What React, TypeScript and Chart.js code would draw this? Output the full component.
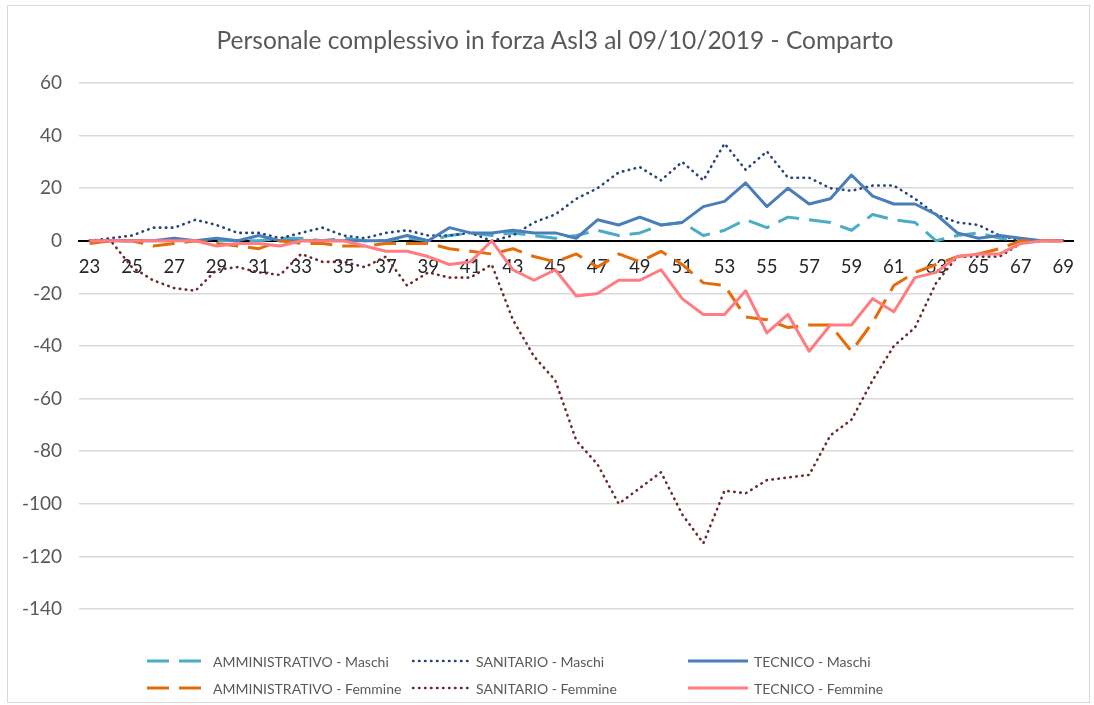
import React, { useEffect, useRef } from "react";
import { Chart, registerables } from "chart.js";

Chart.register(...registerables);

const TITLE = "Personale complessivo in forza Asl3 al 09/10/2019 - Comparto";

const ages = [
  "23", "24", "25", "26", "27", "28", "29", "30", "31", "32", "33", "34",
  "35", "36", "37", "38", "39", "40", "41", "42", "43", "44", "45", "46",
  "47", "48", "49", "50", "51", "52", "53", "54", "55", "56", "57", "58",
  "59", "60", "61", "62", "63", "64", "65", "66", "67", "68", "69",
];

const yTicks = [60, 40, 20, 0, -20, -40, -60, -80, -100, -120, -140];

const amministrativoMaschi = [
  0, 0, 0, 0, 0, 0, 0, 0, 0, 1, 1, 0,
  1, 0, 0, 1, 0, 2, 3, 2, 3, 2, 1, 2,
  4, 2, 3, 6, 7, 2, 4, 8, 5, 9, 8, 7,
  4, 10, 8, 7, 0, 2, 3, 1, 0, 0, 0,
];

const sanitarioMaschi = [
  0, 1, 2, 5, 5, 8, 6, 3, 3, 1, 3, 5,
  2, 1, 3, 4, 2, 2, 3, 0, 2, 7, 10, 16,
  20, 26, 28, 23, 30, 23, 37, 27, 34, 24, 24, 20,
  19, 21, 21, 16, 10, 7, 6, 2, 0, 0, 0,
];

const tecnicoMaschi = [
  0, 0, 0, 0, 1, 0, 1, 0, 2, 0, 0, 0,
  0, 0, 0, 2, 0, 5, 3, 3, 4, 3, 3, 1,
  8, 6, 9, 6, 7, 13, 15, 22, 13, 20, 14, 16,
  25, 17, 14, 14, 10, 3, 1, 2, 1, 0, 0,
];

const amministrativoFemmine = [
  -1, 0, 0, -2, -1, 0, -1, -2, -3, 0, -1, -1,
  -2, -2, -1, -1, -1, -3, -4, -5, -3, -6, -8, -5,
  -10, -5, -8, -4, -9, -16, -17, -29, -30, -33, -32, -32,
  -42, -31, -17, -12, -9, -6, -5, -3, 0, 0, 0,
];

const sanitarioFemmine = [
  0, 0, -10, -15, -18, -19, -11, -10, -12, -13, -5, -8,
  -8, -10, -6, -17, -12, -14, -14, -9, -30, -44, -53, -76,
  -85, -100, -94, -88, -104, -115, -95, -96, -91, -90, -89, -74,
  -68, -53, -40, -33, -16, -6, -6, -6, -1, 0, 0,
];

const tecnicoFemmine = [
  0, 0, 0, 0, 0, 0, -2, -1, -1, -2, 0, 0,
  0, -2, -4, -4, -6, -9, -8, 0, -11, -15, -11, -21,
  -20, -15, -15, -11, -22, -28, -28, -19, -35, -28, -42, -32,
  -32, -22, -27, -14, -12, -6, -5, -5, -1, 0, 0,
];

type Style = "dash" | "dot" | "solid";

const series: { label: string; data: number[]; color: string; style: Style }[] = [
  { label: "AMMINISTRATIVO - Maschi", data: amministrativoMaschi, color: "#4bacc6", style: "dash" },
  { label: "SANITARIO - Maschi", data: sanitarioMaschi, color: "#264478", style: "dot" },
  { label: "TECNICO - Maschi", data: tecnicoMaschi, color: "#4a7ebb", style: "solid" },
  { label: "AMMINISTRATIVO - Femmine", data: amministrativoFemmine, color: "#e46c0a", style: "dash" },
  { label: "SANITARIO - Femmine", data: sanitarioFemmine, color: "#6b2a2a", style: "dot" },
  { label: "TECNICO - Femmine", data: tecnicoFemmine, color: "#ff7c80", style: "solid" },
];

const FONT = "Lato, 'Open Sans', 'DejaVu Sans', sans-serif";

function dashFor(style: Style): number[] {
  if (style === "dash") return [22, 10];
  if (style === "dot") return [0.5, 5.5];
  return [];
}

function LegendSample({ color, style }: { color: string; style: Style }) {
  const dash = style === "dash" ? "22 10" : style === "dot" ? "0.5 5.5" : undefined;
  return (
    <svg width={60} height={10} style={{ display: "block", flex: "none" }}>
      <line
        x1={style === "dot" ? 3 : 0}
        y1={5}
        x2={60}
        y2={5}
        stroke={color}
        strokeWidth={style === "dot" ? 2.5 : 3}
        strokeDasharray={dash}
        strokeLinecap={style === "dot" ? "round" : "butt"}
      />
    </svg>
  );
}

export default function App() {
  const canvasRef = useRef<HTMLCanvasElement | null>(null);

  useEffect(() => {
    const canvas = canvasRef.current;
    if (!canvas) return;
    const n = series.length;
    const chart = new Chart(canvas, {
      type: "line",
      data: {
        labels: ages,
        datasets: series.map((s, i) => ({
          label: s.label,
          data: s.data,
          borderColor: s.color,
          backgroundColor: s.color,
          borderWidth: s.style === "dot" ? 2.6 : 3,
          borderDash: dashFor(s.style),
          borderCapStyle: s.style === "dot" ? "round" : "butt",
          borderJoinStyle: "round",
          pointRadius: 0,
          pointHoverRadius: 0,
          tension: 0,
          fill: false,
          order: n - i,
        })),
      },
      options: {
        responsive: false,
        animation: false,
        events: [],
        layout: { padding: { left: 0, right: 12, top: 77, bottom: 93 } },
        plugins: {
          legend: { display: false },
          tooltip: { enabled: false },
          title: { display: false },
        },
        scales: {
          x: {
            type: "category",
            position: { y: 0 },
            offset: true,
            grid: { display: false, drawTicks: false },
            border: { display: true, color: "#000000", width: 2 },
            ticks: {
              autoSkip: false,
              maxRotation: 0,
              minRotation: 0,
              padding: 15,
              color: "#262626",
              font: { family: FONT, size: 18.5 },
              callback: (_v: any, idx: number) => (idx % 2 === 0 ? ages[idx] : ""),
            },
          },
          y: {
            type: "linear",
            min: yTicks[yTicks.length - 1],
            max: yTicks[0],
            afterFit: (scale: any) => {
              scale.width = 71;
            },
            afterBuildTicks: (scale: any) => {
              scale.ticks = yTicks.map((v) => ({ value: v }));
            },
            grid: { color: "#d9d9d9", lineWidth: 1.5, drawTicks: false },
            border: { display: false },
            ticks: {
              padding: 17,
              color: "#595959",
              font: { family: FONT, size: 19 },
            },
          },
        },
      },
    });
    return () => chart.destroy();
  }, []);

  const colLefts = [139, 402, 680];

  return (
    <div
      style={{
        position: "absolute",
        left: 7,
        top: 5,
        width: 1083,
        height: 698,
        border: "1px solid #d9d9d9",
        boxSizing: "border-box",
        background: "#ffffff",
        fontFamily: FONT,
      }}
    >
      <canvas
        ref={canvasRef}
        width={1081}
        height={696}
        style={{ position: "absolute", left: 0, top: 0, width: 1081, height: 696 }}
      />
      <div
        style={{
          position: "absolute",
          left: 0,
          top: 19,
          width: 1094,
          height: 30,
          lineHeight: "30px",
          textAlign: "center",
          whiteSpace: "nowrap",
          color: "#595959",
          fontSize: 24.5,
        }}
      >
        {TITLE}
      </div>
      {series.map((s, i) => {
        const col = i % 3;
        const row = Math.floor(i / 3);
        return (
          <div
            key={s.label}
            style={{
              position: "absolute",
              left: colLefts[col],
              top: 645 + row * 27,
              height: 20,
              display: "flex",
              alignItems: "center",
              whiteSpace: "nowrap",
              color: "#595959",
              fontSize: 14,
            }}
          >
            <LegendSample color={s.color} style={s.style} />
            <span style={{ marginLeft: 6 }}>{s.label}</span>
          </div>
        );
      })}
    </div>
  );
}
